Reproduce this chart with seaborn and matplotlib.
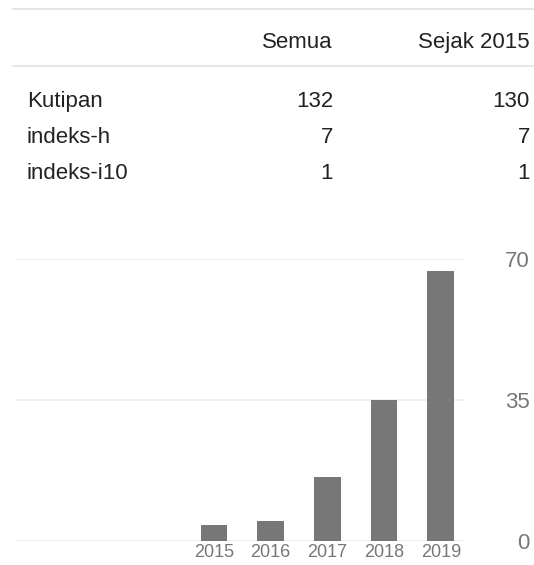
import matplotlib
matplotlib.use("Agg")
import matplotlib.pyplot as plt
import seaborn as sns
import pandas as pd

# ---- data ----
years = ["2015", "2016", "2017", "2018", "2019"]
citations = [4, 5, 16, 35, 67]
row_labels = ["Kutipan", "indeks-h", "indeks-i10"]
col_labels = ["Semua", "Sejak 2015"]
all_vals = ["132", "7", "1"]
since_vals = ["130", "7", "1"]
yticks = [0, 35, 70]

sns.set_theme(style="white")
plt.rcParams["font.family"] = ["Liberation Sans", "DejaVu Sans"]

W, H = 534, 565
fig = plt.figure(figsize=(W / 100, H / 100), dpi=100)

def fx(px):
    return px / W

def fy(py):
    return 1 - py / H

# ---- table ----
line_color = "#e0e0e0"
for ypx in [9, 66]:
    fig.add_artist(plt.Line2D([fx(13), 1.0], [fy(ypx), fy(ypx)], color=line_color, lw=1.2))

txt_color = "#222222"
fs = 16
fig.text(fx(333), fy(48), col_labels[0], ha="right", va="baseline", fontsize=fs, color=txt_color)
fig.text(fx(530), fy(48), col_labels[1], ha="right", va="baseline", fontsize=fs, color=txt_color)
baselines = [107, 143, 179]
for lab, a, s, b in zip(row_labels, all_vals, since_vals, baselines):
    fig.text(fx(27), fy(b), lab, ha="left", va="baseline", fontsize=fs, color=txt_color)
    fig.text(fx(333), fy(b), a, ha="right", va="baseline", fontsize=fs, color=txt_color)
    fig.text(fx(530), fy(b), s, ha="right", va="baseline", fontsize=fs, color=txt_color)

# ---- chart ----
left, right = 15, 464
top, bottom = 259, 541
ax = fig.add_axes([fx(left), fy(bottom), fx(right - left), (bottom - top) / H])
df = pd.DataFrame({"year": years, "citations": citations})
sns.barplot(data=df, x="year", y="citations", order=years, color="#777777",
            width=0.47, saturation=1, ax=ax, edgecolor="none")
ax.set_xlim(-3.51, 4.41)
ax.set_ylim(0, 70)
ax.set_xlabel("")
ax.set_ylabel("")
for s in ax.spines.values():
    s.set_visible(False)
ax.set_yticks(yticks)
ax.yaxis.grid(True, color="#eeeeee", lw=1.2)
ax.set_axisbelow(True)
ax.yaxis.tick_right()
ax.tick_params(axis="y", length=0, pad=47.5, labelsize=16, labelcolor="#777777")
for t in ax.get_yticklabels():
    t.set_horizontalalignment("right")
ax.tick_params(axis="x", length=0, pad=2, labelsize=13, labelcolor="#777777")
ax.patch.set_alpha(0)

fig.savefig("out.png", dpi=100)
